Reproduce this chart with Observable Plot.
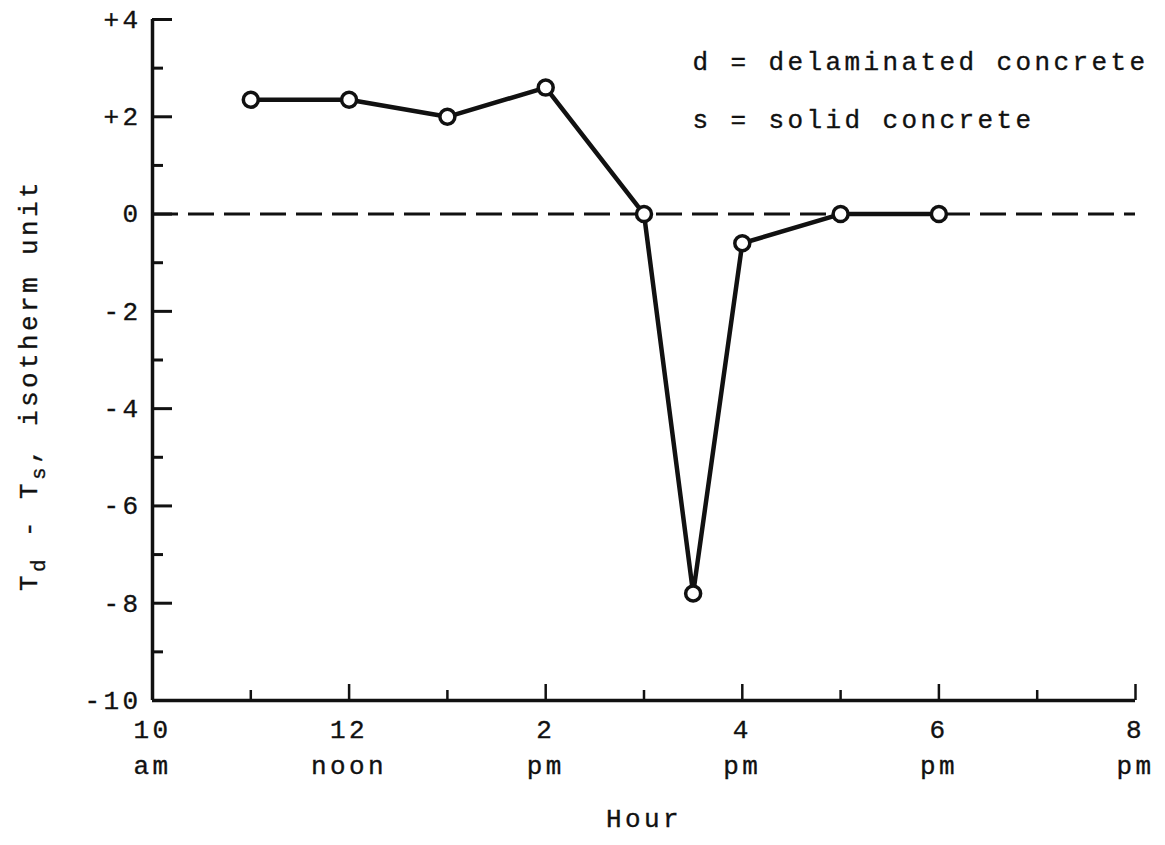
<!DOCTYPE html>
<html><head><meta charset="utf-8">
<script src="https://cdn.jsdelivr.net/npm/d3@7"></script>
<script src="https://cdn.jsdelivr.net/npm/@observablehq/plot@0.6"></script>
<style>
body{margin:0;background:#fff;}
svg text{letter-spacing:3.4px; stroke:#111; stroke-width:0.35px;}
</style></head><body><div id="chart"></div>
<script>
// ---- data ----
const hours = [11, 12, 13, 14, 15, 15.5, 16, 17, 18];
const diffs = [2.35, 2.35, 2.0, 2.6, 0, -7.8, -0.6, 0, 0];
const xTickValues = [10, 11, 12, 13, 14, 15, 16, 17, 18, 19, 20];
const xLabelValues = [10, 12, 14, 16, 18, 20];
const xTickLabels = ["10\nam", "12\nnoon", "2\npm", "4\npm", "6\npm", "8\npm"];
const yTickValues = [-10, -9, -8, -7, -6, -5, -4, -3, -2, -1, 0, 1, 2, 3, 4];
const yLabelValues = [4, 2, 0, -2, -4, -6, -8, -10];
const yTickLabels = ["+4", "+2", "0", "-2", "-4", "-6", "-8", "-10"];
const legendLines = ["d = delaminated concrete", "s = solid concrete"];
const xAxisTitle = "Hour";

// ---- layout ----
const W = 1165, H = 845, mL = 152, mR = 30, mT = 19, mB = 145;
const pw = W - mL - mR, ph = H - mT - mB;
const font = "'Liberation Mono', 'DejaVu Sans Mono', monospace";
const fs = 26;
const data = hours.map((h, i) => ({hour: h, diff: diffs[i]}));
const yMajor = yTickValues.filter(v => v % 2 === 0);
const yMinor = yTickValues.filter(v => v % 2 !== 0);
const xMajor = xTickValues.filter(v => v % 2 === 0);
const xMinor = xTickValues.filter(v => v % 2 !== 0);
const ink = "#111";

const chart = Plot.plot({
  width: W, height: H,
  marginLeft: mL, marginRight: mR, marginTop: mT, marginBottom: mB,
  x: {domain: [10, 20]},
  y: {domain: [-10, 4]},
  style: {fontFamily: font, fontSize: fs + "px", color: ink, background: "#fff"},
  marks: [
    Plot.ruleY([0], {strokeWidth: 3, strokeDasharray: "26,10", stroke: ink}),
    Plot.ruleY(yMajor, {y: d => d, insetRight: pw - 20, strokeWidth: 3, stroke: ink}),
    Plot.ruleY(yMinor, {y: d => d, insetRight: pw - 11, strokeWidth: 3, stroke: ink}),
    Plot.ruleX(xMajor, {x: d => d, insetTop: ph - 16, strokeWidth: 2.5, stroke: ink}),
    Plot.ruleX(xMinor, {x: d => d, insetTop: ph - 10, strokeWidth: 2.5, stroke: ink}),
    Plot.ruleX([10], {strokeWidth: 3.5, stroke: ink}),
    Plot.ruleY([-10], {strokeWidth: 3.5, stroke: ink}),
    Plot.axisY(yLabelValues, {
      tickSize: 0, tickPadding: 11, label: null, fontSize: fs,
      tickFormat: d => yTickLabels[yLabelValues.indexOf(d)]
    }),
    Plot.axisX(xLabelValues, {
      tickSize: 0, tickPadding: 13, label: null, fontSize: fs, lineHeight: 1.35,
      tickFormat: d => xTickLabels[xLabelValues.indexOf(d)]
    }),
    Plot.line(data, {x: "hour", y: "diff", stroke: ink, strokeWidth: 4.5, strokeLinejoin: "round"}),
    Plot.dot(data, {x: "hour", y: "diff", r: 7.5, fill: "#fff", stroke: ink, strokeWidth: 3.5}),
    Plot.text([xAxisTitle], {frameAnchor: "bottom", dy: 126, fontSize: fs, fill: ink}),
    Plot.text([legendLines[0]], {
      frameAnchor: "top-left", textAnchor: "start", dx: 540, dy: 32, fontSize: fs, fill: ink
    }),
    Plot.text([legendLines[1]], {
      frameAnchor: "top-left", textAnchor: "start", dx: 540, dy: 90, fontSize: fs, fill: ink
    })
  ]
});
document.getElementById("chart").appendChild(chart);

const svg = d3.select(chart);
// y-axis label with subscripts
const lab = svg.append("text")
  .attr("transform", "rotate(-90)")
  .attr("x", -385).attr("y", 37)
  .attr("text-anchor", "middle")
  .attr("font-family", font).attr("font-size", fs).attr("fill", ink);
lab.append("tspan").text("T");
lab.append("tspan").attr("dy", 8).attr("font-size", 21).text("d");
lab.append("tspan").attr("dy", -8).text(" - T");
lab.append("tspan").attr("dy", 8).attr("font-size", 21).text("s");
lab.append("tspan").attr("dy", -8).text(", isotherm unit");
</script></body></html>
